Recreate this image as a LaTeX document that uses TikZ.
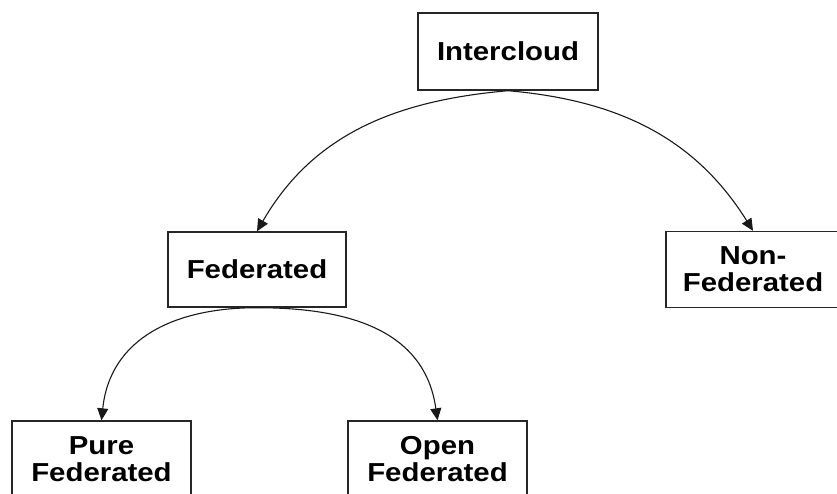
\documentclass[tikz,border=0pt]{standalone}
\usepackage{fontspec}
\setmainfont{Liberation Sans}[FakeStretch=1.13]
\usetikzlibrary{arrows.meta}

\begin{document}
\begin{tikzpicture}[x=1pt,y=-1pt,
  box/.style={draw=black!85, line width=1.4pt, fill=white, align=center,
    font=\bfseries\fontsize{26}{27}\selectfont, inner sep=0pt},
  link/.style={draw=black!90, line width=1.1pt,
    -{Triangle[length=12pt,width=11pt]}}]
\clip (0,0) rectangle (837,493);

% classification boxes
\node[box, minimum width=180pt, minimum height=77pt] (ic)   at (508,51.5)  {Intercloud};
\node[box, minimum width=178pt, minimum height=75pt] (fed)  at (257,269.5) {Federated};
\node[box, minimum width=174pt, minimum height=76pt] (nfed) at (753,269.5) {Non-\\Federated};
\node[box, minimum width=179pt, minimum height=77pt] (pure) at (101.5,459.5) {Pure\\Federated};
\node[box, minimum width=179pt, minimum height=77pt] (open) at (437.5,459.5) {Open\\Federated};

% curved branches
\draw[link] (ic.south)  to[out=185,in=60]  (fed.north);
\draw[link] (ic.south)  to[out=-5,in=122]  (nfed.north);
\draw[link] (fed.south) to[out=180,in=84,looseness=1.1] (pure.north);
\draw[link] (fed.south) to[out=0,in=98,looseness=1.1]   (open.north);
\end{tikzpicture}
\end{document}
